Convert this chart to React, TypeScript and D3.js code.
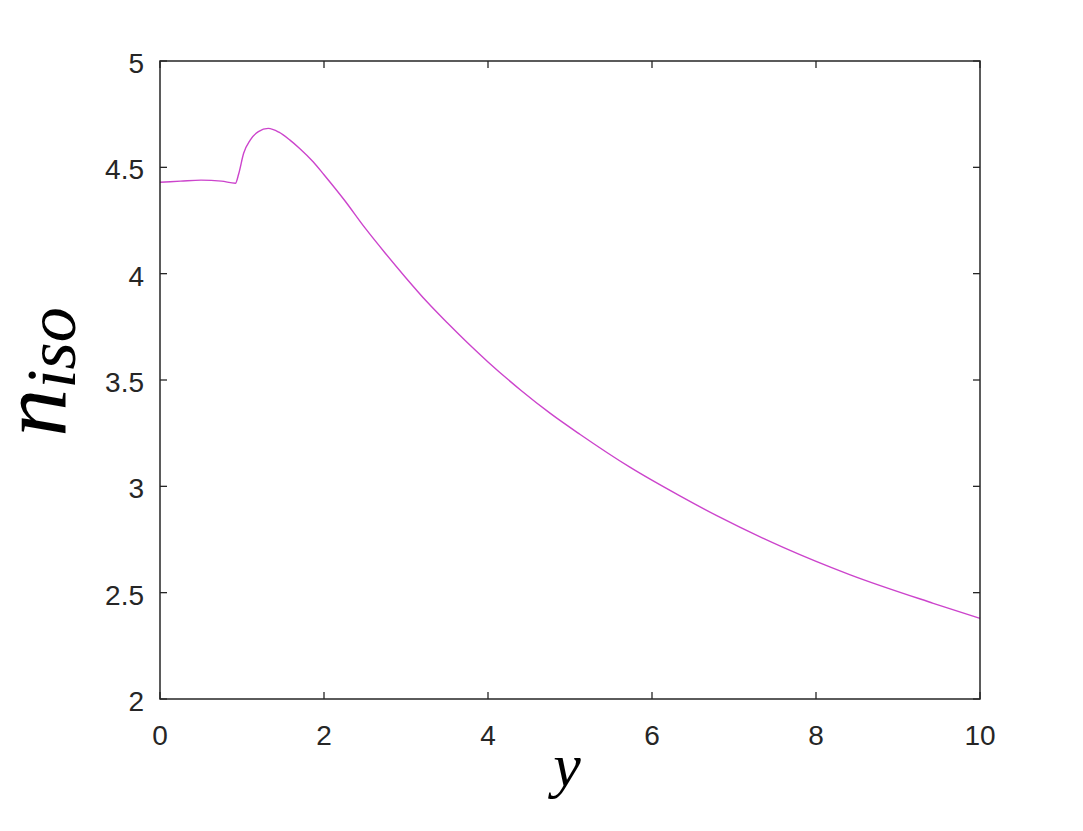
import React, { useRef, useEffect } from "react";
import * as d3 from "d3";

// curve
const yPos = [0, 0.25, 0.5, 0.75, 0.92, 0.96, 1.02, 1.1, 1.2, 1.32, 1.45, 1.585, 1.7, 1.87, 2.0, 2.25, 2.5, 2.75, 3.0, 3.25, 3.5, 3.75, 4.0, 4.4, 4.76, 5.12, 5.73, 6.34, 6.79, 7.6, 8.41, 9.43, 10];
const nIso = [4.43, 4.435, 4.44, 4.435, 4.425, 4.47, 4.566, 4.628, 4.668, 4.683, 4.665, 4.628, 4.59, 4.525, 4.465, 4.345, 4.215, 4.095, 3.98, 3.87, 3.77, 3.675, 3.585, 3.452, 3.343, 3.245, 3.09, 2.955, 2.862, 2.713, 2.585, 2.45, 2.379];
const xTicks = [0, 2, 4, 6, 8, 10];
const yTicks = [2, 2.5, 3, 3.5, 4, 4.5, 5];

const App = () => {
  const svgRef = useRef<SVGSVGElement>(null);

  useEffect(() => {
    document.body.style.margin = "0";
    const svg = d3.select(svgRef.current);
    svg.selectAll("*").remove();

    const left = 160, right = 980, top = 61, bottom = 699;
    const x = d3.scaleLinear().domain([0, 10]).range([left, right]);
    const y = d3.scaleLinear().domain([2, 5]).range([bottom, top]);
    const axisColor = "#262626";
    const tick = 7;

    svg.append("rect").attr("width", 1083).attr("height", 831).attr("fill", "#fff");

    // line
    const data = yPos.map((v, i) => [v, nIso[i]] as [number, number]);
    const line = d3.line<[number, number]>()
      .x((d) => x(d[0]))
      .y((d) => y(d[1]))
      .curve(d3.curveMonotoneX);
    svg.append("path")
      .datum(data)
      .attr("d", line)
      .attr("fill", "none")
      .attr("stroke", "#cc44cc")
      .attr("stroke-width", 1.4);

    // box
    svg.append("rect")
      .attr("x", left).attr("y", top)
      .attr("width", right - left).attr("height", bottom - top)
      .attr("fill", "none")
      .attr("stroke", axisColor)
      .attr("stroke-width", 1.5);

    const g = svg.append("g").attr("stroke", axisColor).attr("stroke-width", 1.3);
    xTicks.forEach((t) => {
      g.append("line").attr("x1", x(t)).attr("x2", x(t)).attr("y1", bottom).attr("y2", bottom - tick);
      g.append("line").attr("x1", x(t)).attr("x2", x(t)).attr("y1", top).attr("y2", top + tick);
    });
    yTicks.forEach((t) => {
      g.append("line").attr("x1", left).attr("x2", left + tick).attr("y1", y(t)).attr("y2", y(t));
      g.append("line").attr("x1", right).attr("x2", right - tick).attr("y1", y(t)).attr("y2", y(t));
    });

    // tick labels
    svg.selectAll("text.xt")
      .data(xTicks)
      .enter()
      .append("text")
      .attr("x", (d) => x(d))
      .attr("y", bottom + 46)
      .attr("text-anchor", "middle")
      .attr("fill", axisColor)
      .attr("font-family", "Liberation Sans, Arial, sans-serif")
      .attr("font-size", 28)
      .text((d) => String(d));

    svg.selectAll("text.yt")
      .data(yTicks)
      .enter()
      .append("text")
      .attr("x", left - 16)
      .attr("y", (d) => y(d) + 12)
      .attr("text-anchor", "end")
      .attr("fill", axisColor)
      .attr("font-family", "Liberation Sans, Arial, sans-serif")
      .attr("font-size", 28)
      .text((d) => String(d));

    // axis labels
    svg.append("text")
      .attr("x", 567)
      .attr("y", 786)
      .attr("text-anchor", "middle")
      .attr("fill", "#000")
      .attr("font-family", "Liberation Serif, Times New Roman, serif")
      .attr("font-style", "italic")
      .attr("font-size", 62)
      .text("y");

    const yl = svg.append("text")
      .attr("transform", `translate(66,372) rotate(-90)`)
      .attr("text-anchor", "middle")
      .attr("fill", "#000")
      .attr("font-family", "Liberation Serif, Times New Roman, serif")
      .attr("font-style", "italic");
    yl.append("tspan").attr("font-size", 96).text("n");
    yl.append("tspan").attr("font-size", 70).attr("dy", 9).text("iso");
  }, []);

  return <svg ref={svgRef} width={1083} height={831} style={{ display: "block" }}></svg>;
};

export default App;
